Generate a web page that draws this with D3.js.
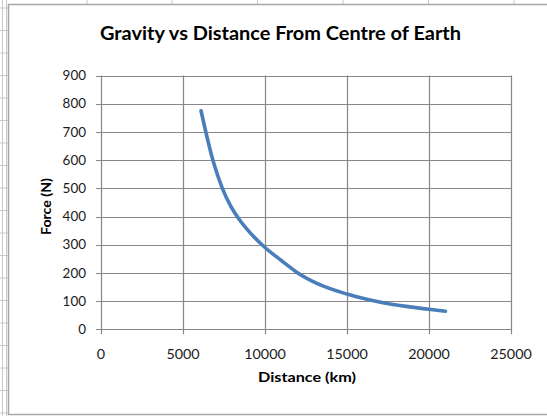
<!DOCTYPE html>
<html>
<head>
<meta charset="utf-8">
<script src="https://cdn.jsdelivr.net/npm/d3@7"></script>
<style>
  body { margin: 0; background: #fff; }
  svg { display: block; font-family: Lato, "Open Sans", sans-serif; }
</style>
</head>
<body>
<div id="chart"></div>
<script>
const distance = [6100, 6850, 7400, 7900, 8400, 9100, 10000, 11000, 12000, 13200, 15000, 17200, 20000, 21000];
const force = [775, 594, 500, 438, 392, 342, 290, 244, 200, 162, 125, 94, 71, 64];
const xTicks = [0, 5000, 10000, 15000, 20000, 25000];
const yTicks = [0, 100, 200, 300, 400, 500, 600, 700, 800, 900];

const W = 547, H = 416;
const svg = d3.select("#chart").append("svg").attr("width", W).attr("height", H);

// spreadsheet cells behind the chart object
const sheet = svg.append("g").attr("stroke", "#c8c8c8").attr("stroke-width", 1);
[87, 172, 257.5, 343, 428.5, 514].forEach(x => {
  sheet.append("line").attr("x1", x).attr("x2", x).attr("y1", 0).attr("y2", 5);
});
[2.5, 6.5].forEach(x => {
  sheet.append("line").attr("x1", x).attr("x2", x).attr("y1", 0).attr("y2", H);
});
d3.range(8, H, 22.5).forEach(y => {
  sheet.append("line").attr("x1", 0).attr("x2", 8).attr("y1", y).attr("y2", y);
});

// chart frame
svg.append("rect")
  .attr("x", 8.5).attr("y", 4.5)
  .attr("width", W).attr("height", 410)
  .attr("fill", "#fff")
  .attr("stroke", "#a6a6a6")
  .attr("stroke-width", 1.5);

const x = d3.scaleLinear().domain([0, 25000]).range([101, 511]);
const y = d3.scaleLinear().domain([0, 900]).range([329.3, 75.5]);

const grid = svg.append("g").attr("stroke", "#878787").attr("stroke-width", 1.2);
yTicks.forEach(t => {
  grid.append("line")
    .attr("x1", x(0) - 5).attr("x2", x(25000))
    .attr("y1", Math.round(y(t)) + 0.5).attr("y2", Math.round(y(t)) + 0.5);
});
xTicks.forEach(t => {
  grid.append("line")
    .attr("x1", Math.round(x(t)) + 0.5).attr("x2", Math.round(x(t)) + 0.5)
    .attr("y1", y(900)).attr("y2", y(0) + 5);
});

svg.append("g")
  .selectAll("text")
  .data(yTicks)
  .join("text")
  .attr("x", 86)
  .attr("y", d => y(d))
  .attr("dy", "0.36em")
  .attr("text-anchor", "end")
  .attr("font-size", "13px")
  .attr("fill", "#1a1a1a")
  .attr("textLength", d => String(d).length * 7.8)
  .attr("lengthAdjust", "spacingAndGlyphs")
  .text(d => d);

svg.append("g")
  .selectAll("text")
  .data(xTicks)
  .join("text")
  .attr("x", d => x(d))
  .attr("y", 354)
  .attr("dy", "0.36em")
  .attr("text-anchor", "middle")
  .attr("font-size", "13px")
  .attr("fill", "#1a1a1a")
  .attr("textLength", d => String(d).length * 8.3)
  .attr("lengthAdjust", "spacingAndGlyphs")
  .text(d => d);

const line = d3.line()
  .x((d, i) => x(distance[i]))
  .y(d => y(d))
  .curve(d3.curveMonotoneX);

svg.append("path")
  .datum(force)
  .attr("d", line)
  .attr("fill", "none")
  .attr("stroke", "#4a7ebb")
  .attr("stroke-width", 3.6)
  .attr("stroke-linecap", "round")
  .attr("stroke-linejoin", "round");

svg.append("text")
  .attr("x", 280.5).attr("y", 40)
  .attr("text-anchor", "middle")
  .attr("font-size", "19px")
  .attr("font-weight", "bold")
  .attr("textLength", 361)
  .attr("lengthAdjust", "spacingAndGlyphs")
  .text("Gravity vs Distance From Centre of Earth");

svg.append("text")
  .attr("x", 307).attr("y", 381.5)
  .attr("text-anchor", "middle")
  .attr("font-size", "14px")
  .attr("font-weight", "bold")
  .attr("textLength", 98)
  .attr("lengthAdjust", "spacingAndGlyphs")
  .text("Distance (km)");

svg.append("text")
  .attr("transform", "translate(51,206.5) rotate(-90)")
  .attr("text-anchor", "middle")
  .attr("font-size", "13px")
  .attr("font-weight", "bold")
  .attr("textLength", 57)
  .attr("lengthAdjust", "spacingAndGlyphs")
  .text("Force (N)");
</script>
</body>
</html>
